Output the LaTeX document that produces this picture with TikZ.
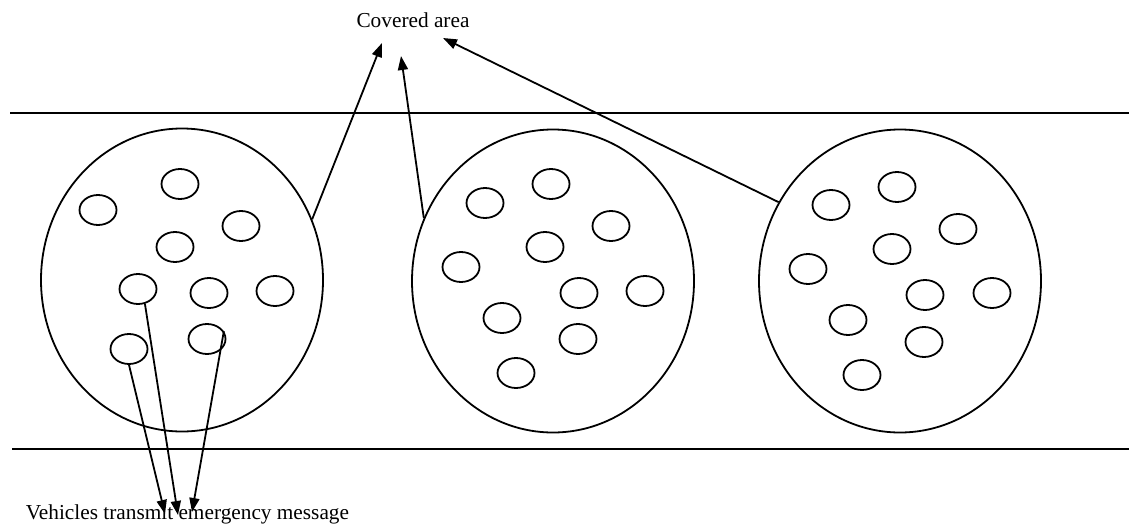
\documentclass[tikz,border=0pt]{standalone}
\usepackage{fontspec}
\setmainfont{Liberation Serif}
\usetikzlibrary{shapes.geometric,arrows.meta}
\begin{document}
\begin{tikzpicture}[x=1pt,y=-1pt,
  line width=1.8pt,
  area/.style={draw,ellipse,minimum width=282pt,minimum height=303pt,inner sep=0pt},
  car/.style={draw,ellipse,minimum width=37pt,minimum height=30pt,inner sep=0pt},
  arr/.style={-{Triangle[length=14pt,width=10pt]}},
  lbl/.style={font=\fontsize{21.3}{24}\selectfont,inner sep=0pt}]
\useasboundingbox (0,0) rectangle (1129,525);
% road edges
\coordinate (r1a) at (10,113); \coordinate (r1b) at (1129,113);
\coordinate (r2a) at (12,449); \coordinate (r2b) at (1129,449);
\draw (r1a) -- (r1b);
\draw (r2a) -- (r2b);
% covered areas
\node[area] (c1) at (182,280) {};
\node[area] (c2) at (553,281) {};
\node[area] (c3) at (900,281) {};
% vehicles area 1
\node[car] (v11) at (98,210) {};
\node[car] (v12) at (180,184) {};
\node[car] (v13) at (241,226) {};
\node[car] (v14) at (175,247) {};
\node[car] (v15) at (138,289) {};
\node[car] (v16) at (209,293) {};
\node[car] (v17) at (275,291) {};
\node[car] (v18) at (129,349) {};
\node[car] (v19) at (207,339) {};
% vehicles area 2
\node[car] (v21) at (485,203) {};
\node[car] (v22) at (551,184) {};
\node[car] (v23) at (611,226) {};
\node[car] (v24) at (545,247) {};
\node[car] (v25) at (461,267) {};
\node[car] (v26) at (579,293) {};
\node[car] (v27) at (645,291) {};
\node[car] (v28) at (502,318) {};
\node[car] (v29) at (578,339) {};
\node[car] (v210) at (516,373) {};
% vehicles area 3
\node[car] (v31) at (831,205) {};
\node[car] (v32) at (897,187) {};
\node[car] (v33) at (958,229) {};
\node[car] (v34) at (892,249) {};
\node[car] (v35) at (808,269) {};
\node[car] (v36) at (925,295) {};
\node[car] (v37) at (992,293) {};
\node[car] (v38) at (848,320) {};
\node[car] (v39) at (924,342) {};
\node[car] (v310) at (862,375) {};
% labels
\node[lbl] (cov) at (413,20) {Covered area};
\node[lbl,anchor=west] (veh) at (25,514) {Vehicles transmit emergency message};
% arrow end points
\coordinate (t1) at (382,43);
\coordinate (t2) at (401,56);
\coordinate (t3) at (443,38);
\coordinate (b1) at (165,514);
\coordinate (b2) at (178,515);
\coordinate (b3) at (192,512);
% arrows
\draw[arr] (c1.25) -- (t1);
\draw[arr] (c2.154) -- (t2);
\draw[arr] (c3.147) -- (t3);
\draw[arr] (v18.south) -- (b1);
\draw[arr] (v15.-65) -- (b2);
\draw[arr] (v19.25) -- (b3);
\end{tikzpicture}
\end{document}
